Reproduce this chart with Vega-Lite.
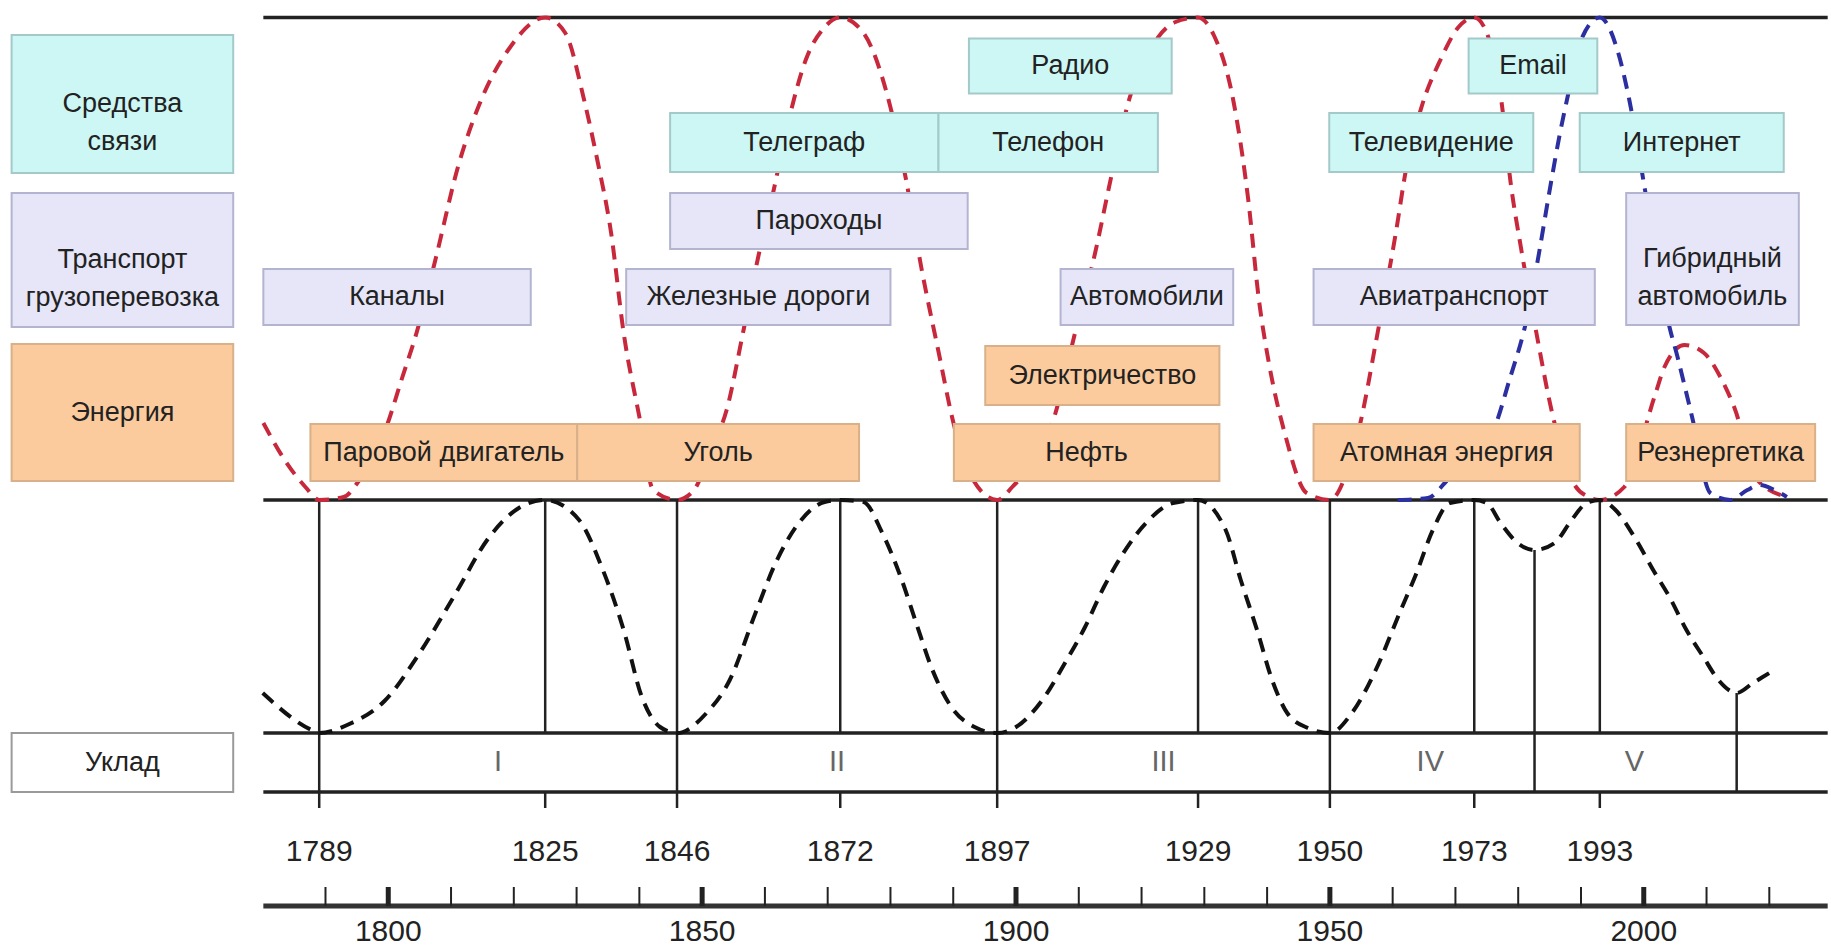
{
  "$schema": "https://vega.github.io/schema/vega-lite/v6.json",
  "width": 1831,
  "height": 952,
  "autosize": {"type": "fit", "contains": "padding"},
  "padding": 0,
  "background": "white",
  "config": {"view": {"stroke": null}},
  "datasets": {
    "hlines": [
      {"start": 1780.1, "end": 2029.3, "y": 17.5},
      {"start": 1780.1, "end": 2029.3, "y": 500},
      {"start": 1780.1, "end": 2029.3, "y": 733},
      {"start": 1780.1, "end": 2029.3, "y": 792}
    ],
    "vlines": [
      {"year": 1789, "y1": 500, "y2": 808},
      {"year": 1825, "y1": 500, "y2": 733},
      {"year": 1825, "y1": 792, "y2": 808},
      {"year": 1846, "y1": 500, "y2": 808},
      {"year": 1872, "y1": 500, "y2": 733},
      {"year": 1872, "y1": 792, "y2": 808},
      {"year": 1897, "y1": 500, "y2": 808},
      {"year": 1929, "y1": 500, "y2": 733},
      {"year": 1929, "y1": 792, "y2": 808},
      {"year": 1950, "y1": 500, "y2": 808},
      {"year": 1973, "y1": 500, "y2": 733},
      {"year": 1973, "y1": 792, "y2": 808},
      {"year": 1982.6, "y1": 550, "y2": 792},
      {"year": 1993, "y1": 500, "y2": 733},
      {"year": 1993, "y1": 792, "y2": 808},
      {"year": 2014.8, "y1": 693, "y2": 792}
    ],
    "ticks": [
      {"year": 1790}, {"year": 1800}, {"year": 1810}, {"year": 1820}, {"year": 1830}, {"year": 1840},
      {"year": 1850}, {"year": 1860}, {"year": 1870}, {"year": 1880}, {"year": 1890}, {"year": 1900},
      {"year": 1910}, {"year": 1920}, {"year": 1930}, {"year": 1940}, {"year": 1950}, {"year": 1960},
      {"year": 1970}, {"year": 1980}, {"year": 1990}, {"year": 2000}, {"year": 2010}, {"year": 2020}
    ],
    "curves": [
      {"s": "innov", "year": 1780.1, "y": 423}, {"s": "innov", "year": 1783.5, "y": 460}, {"s": "innov", "year": 1786.8, "y": 487},
      {"s": "innov", "year": 1789, "y": 500}, {"s": "innov", "year": 1792.9, "y": 497}, {"s": "innov", "year": 1795.4, "y": 480},
      {"s": "innov", "year": 1799.7, "y": 427}, {"s": "innov", "year": 1802.1, "y": 380}, {"s": "innov", "year": 1804.5, "y": 333},
      {"s": "innov", "year": 1807.5, "y": 260}, {"s": "innov", "year": 1811.1, "y": 167}, {"s": "innov", "year": 1814.8, "y": 100},
      {"s": "innov", "year": 1819.1, "y": 50}, {"s": "innov", "year": 1825, "y": 17.5}, {"s": "innov", "year": 1828.2, "y": 33},
      {"s": "innov", "year": 1831.2, "y": 100}, {"s": "innov", "year": 1833.3, "y": 160}, {"s": "innov", "year": 1835.5, "y": 233},
      {"s": "innov", "year": 1837.5, "y": 333}, {"s": "innov", "year": 1840.1, "y": 420}, {"s": "innov", "year": 1842.2, "y": 490},
      {"s": "innov", "year": 1846, "y": 500}, {"s": "innov", "year": 1848.7, "y": 490}, {"s": "innov", "year": 1851.4, "y": 450},
      {"s": "innov", "year": 1853.9, "y": 410}, {"s": "innov", "year": 1856.6, "y": 330}, {"s": "innov", "year": 1859.0, "y": 255},
      {"s": "innov", "year": 1861.4, "y": 190}, {"s": "innov", "year": 1863.8, "y": 120}, {"s": "innov", "year": 1866.5, "y": 60},
      {"s": "innov", "year": 1869.4, "y": 28}, {"s": "innov", "year": 1872, "y": 17.5}, {"s": "innov", "year": 1875.7, "y": 33},
      {"s": "innov", "year": 1879.7, "y": 100}, {"s": "innov", "year": 1882.4, "y": 177}, {"s": "innov", "year": 1884.9, "y": 267},
      {"s": "innov", "year": 1887.6, "y": 350}, {"s": "innov", "year": 1890.2, "y": 427}, {"s": "innov", "year": 1892.9, "y": 477},
      {"s": "innov", "year": 1897, "y": 500}, {"s": "innov", "year": 1899.4, "y": 487}, {"s": "innov", "year": 1906.1, "y": 417},
      {"s": "innov", "year": 1909.4, "y": 333}, {"s": "innov", "year": 1912.6, "y": 253}, {"s": "innov", "year": 1915.3, "y": 173},
      {"s": "innov", "year": 1918.0, "y": 100}, {"s": "innov", "year": 1921.8, "y": 45}, {"s": "innov", "year": 1925.4, "y": 22},
      {"s": "innov", "year": 1929, "y": 17.5}, {"s": "innov", "year": 1931.5, "y": 35}, {"s": "innov", "year": 1934.6, "y": 100},
      {"s": "innov", "year": 1937.0, "y": 200}, {"s": "innov", "year": 1938.7, "y": 300}, {"s": "innov", "year": 1940.4, "y": 367},
      {"s": "innov", "year": 1942.8, "y": 433}, {"s": "innov", "year": 1946.3, "y": 493}, {"s": "innov", "year": 1950, "y": 500},
      {"s": "innov", "year": 1952.8, "y": 470}, {"s": "innov", "year": 1954.6, "y": 430}, {"s": "innov", "year": 1957.6, "y": 333},
      {"s": "innov", "year": 1960.5, "y": 233}, {"s": "innov", "year": 1962.2, "y": 167}, {"s": "innov", "year": 1964.6, "y": 107},
      {"s": "innov", "year": 1967.6, "y": 60}, {"s": "innov", "year": 1970.5, "y": 27}, {"s": "innov", "year": 1973, "y": 17.5},
      {"s": "innov", "year": 1975.0, "y": 33}, {"s": "innov", "year": 1977.3, "y": 100}, {"s": "innov", "year": 1978.8, "y": 183},
      {"s": "innov", "year": 1980.5, "y": 250}, {"s": "innov", "year": 1982.9, "y": 333}, {"s": "innov", "year": 1985.3, "y": 410},
      {"s": "innov", "year": 1988.8, "y": 483}, {"s": "innov", "year": 1991.2, "y": 497}, {"s": "innov", "year": 1993, "y": 500},
      {"s": "innov", "year": 1996.9, "y": 487}, {"s": "innov", "year": 2001.7, "y": 397}, {"s": "innov", "year": 2003.3, "y": 367},
      {"s": "innov", "year": 2006.5, "y": 345}, {"s": "innov", "year": 2009.6, "y": 353}, {"s": "innov", "year": 2012.2, "y": 377},
      {"s": "innov", "year": 2014.4, "y": 407}, {"s": "innov", "year": 2018.1, "y": 480}, {"s": "innov", "year": 2022.8, "y": 497},

      {"s": "ict", "year": 1960.8, "y": 500}, {"s": "ict", "year": 1965.6, "y": 498}, {"s": "ict", "year": 1968.3, "y": 483},
      {"s": "ict", "year": 1971.1, "y": 462}, {"s": "ict", "year": 1975.9, "y": 432}, {"s": "ict", "year": 1978.6, "y": 380},
      {"s": "ict", "year": 1981.5, "y": 315}, {"s": "ict", "year": 1983.4, "y": 250}, {"s": "ict", "year": 1985.1, "y": 187},
      {"s": "ict", "year": 1986.6, "y": 135}, {"s": "ict", "year": 1988.0, "y": 93}, {"s": "ict", "year": 1989.7, "y": 45},
      {"s": "ict", "year": 1993, "y": 17.5}, {"s": "ict", "year": 1995.8, "y": 50}, {"s": "ict", "year": 1997.7, "y": 100},
      {"s": "ict", "year": 2000.2, "y": 190}, {"s": "ict", "year": 2002.1, "y": 260}, {"s": "ict", "year": 2004.1, "y": 327},
      {"s": "ict", "year": 2005.3, "y": 355}, {"s": "ict", "year": 2006.4, "y": 383}, {"s": "ict", "year": 2007.7, "y": 417},
      {"s": "ict", "year": 2010.6, "y": 493}, {"s": "ict", "year": 2013.8, "y": 500}, {"s": "ict", "year": 2016.5, "y": 490},
      {"s": "ict", "year": 2018.5, "y": 485}, {"s": "ict", "year": 2020.8, "y": 490}, {"s": "ict", "year": 2022.8, "y": 497},

      {"s": "cycle", "year": 1780.0, "y": 693}, {"s": "cycle", "year": 1787.8, "y": 730}, {"s": "cycle", "year": 1789, "y": 733},
      {"s": "cycle", "year": 1793.8, "y": 724}, {"s": "cycle", "year": 1799.4, "y": 701}, {"s": "cycle", "year": 1804.9, "y": 654},
      {"s": "cycle", "year": 1810.5, "y": 596}, {"s": "cycle", "year": 1816.1, "y": 537}, {"s": "cycle", "year": 1820.8, "y": 508},
      {"s": "cycle", "year": 1825, "y": 500}, {"s": "cycle", "year": 1830.4, "y": 520}, {"s": "cycle", "year": 1834.0, "y": 567},
      {"s": "cycle", "year": 1837.5, "y": 630}, {"s": "cycle", "year": 1840.4, "y": 697}, {"s": "cycle", "year": 1843.3, "y": 727},
      {"s": "cycle", "year": 1846, "y": 733}, {"s": "cycle", "year": 1850.7, "y": 713}, {"s": "cycle", "year": 1854.4, "y": 680},
      {"s": "cycle", "year": 1858.5, "y": 613}, {"s": "cycle", "year": 1861.7, "y": 563}, {"s": "cycle", "year": 1865.4, "y": 523},
      {"s": "cycle", "year": 1869.5, "y": 502}, {"s": "cycle", "year": 1872, "y": 500}, {"s": "cycle", "year": 1875.7, "y": 502},
      {"s": "cycle", "year": 1878.7, "y": 533}, {"s": "cycle", "year": 1881.8, "y": 580}, {"s": "cycle", "year": 1884.1, "y": 623},
      {"s": "cycle", "year": 1886.5, "y": 667}, {"s": "cycle", "year": 1889.7, "y": 707}, {"s": "cycle", "year": 1893.4, "y": 727},
      {"s": "cycle", "year": 1897, "y": 733}, {"s": "cycle", "year": 1900.0, "y": 727}, {"s": "cycle", "year": 1904.2, "y": 700},
      {"s": "cycle", "year": 1907.8, "y": 663}, {"s": "cycle", "year": 1911.0, "y": 627}, {"s": "cycle", "year": 1914.0, "y": 587},
      {"s": "cycle", "year": 1917.1, "y": 553}, {"s": "cycle", "year": 1920.7, "y": 523}, {"s": "cycle", "year": 1925.0, "y": 503},
      {"s": "cycle", "year": 1929, "y": 500}, {"s": "cycle", "year": 1933.4, "y": 530}, {"s": "cycle", "year": 1935.8, "y": 580},
      {"s": "cycle", "year": 1938.4, "y": 630}, {"s": "cycle", "year": 1940.8, "y": 680}, {"s": "cycle", "year": 1943.2, "y": 713},
      {"s": "cycle", "year": 1946.5, "y": 728}, {"s": "cycle", "year": 1950, "y": 733}, {"s": "cycle", "year": 1953.5, "y": 713},
      {"s": "cycle", "year": 1957.3, "y": 670}, {"s": "cycle", "year": 1961.1, "y": 613}, {"s": "cycle", "year": 1963.8, "y": 573},
      {"s": "cycle", "year": 1966.4, "y": 530}, {"s": "cycle", "year": 1969.1, "y": 503}, {"s": "cycle", "year": 1973, "y": 500},
      {"s": "cycle", "year": 1975.0, "y": 503}, {"s": "cycle", "year": 1977.2, "y": 523}, {"s": "cycle", "year": 1979.9, "y": 543},
      {"s": "cycle", "year": 1982.6, "y": 550}, {"s": "cycle", "year": 1985.8, "y": 543}, {"s": "cycle", "year": 1988.5, "y": 520},
      {"s": "cycle", "year": 1990.9, "y": 503}, {"s": "cycle", "year": 1993, "y": 500}, {"s": "cycle", "year": 1995.5, "y": 510},
      {"s": "cycle", "year": 1998.8, "y": 540}, {"s": "cycle", "year": 2001.5, "y": 570}, {"s": "cycle", "year": 2004.1, "y": 597},
      {"s": "cycle", "year": 2006.8, "y": 630}, {"s": "cycle", "year": 2009.5, "y": 657}, {"s": "cycle", "year": 2011.9, "y": 680},
      {"s": "cycle", "year": 2014.8, "y": 693}, {"s": "cycle", "year": 2017.4, "y": 683}, {"s": "cycle", "year": 2020.0, "y": 673}
    ],
    "boxes": [
      {"label": "Средства\nсвязи", "cat": "comm", "start": 1740.0, "end": 1775.3, "top": 35, "bottom": 173},
      {"label": "Транспорт\nгрузоперевозка", "cat": "transport", "start": 1740.0, "end": 1775.3, "top": 193, "bottom": 327},
      {"label": "Энергия", "cat": "energy", "start": 1740.0, "end": 1775.3, "top": 344, "bottom": 481},
      {"label": "Уклад", "cat": "uklad", "start": 1740.0, "end": 1775.3, "top": 733, "bottom": 792},
      {"label": "Радио", "cat": "comm", "start": 1892.5, "end": 1924.8, "top": 38.5, "bottom": 93.4},
      {"label": "Телеграф", "cat": "comm", "start": 1844.9, "end": 1887.65, "top": 113, "bottom": 172},
      {"label": "Телефон", "cat": "comm", "start": 1887.65, "end": 1922.6, "top": 113, "bottom": 172},
      {"label": "Телевидение", "cat": "comm", "start": 1949.9, "end": 1982.4, "top": 113, "bottom": 172},
      {"label": "Email", "cat": "comm", "start": 1972.1, "end": 1992.6, "top": 38.5, "bottom": 93.4},
      {"label": "Интернет", "cat": "comm", "start": 1989.8, "end": 2022.3, "top": 113, "bottom": 172},
      {"label": "Пароходы", "cat": "transport", "start": 1844.9, "end": 1892.3, "top": 193, "bottom": 249},
      {"label": "Каналы", "cat": "transport", "start": 1780.1, "end": 1822.7, "top": 269, "bottom": 325},
      {"label": "Железные дороги", "cat": "transport", "start": 1837.9, "end": 1880.0, "top": 269, "bottom": 325},
      {"label": "Автомобили", "cat": "transport", "start": 1907.1, "end": 1934.6, "top": 269, "bottom": 325},
      {"label": "Авиатранспорт", "cat": "transport", "start": 1947.4, "end": 1992.2, "top": 269, "bottom": 325},
      {"label": "Гибридный\nавтомобиль", "cat": "transport", "start": 1997.2, "end": 2024.7, "top": 193, "bottom": 325},
      {"label": "Электричество", "cat": "energy", "start": 1895.1, "end": 1932.4, "top": 346, "bottom": 405},
      {"label": "Паровой двигатель", "cat": "energy", "start": 1787.6, "end": 1830.1, "top": 424, "bottom": 481},
      {"label": "Уголь", "cat": "energy", "start": 1830.1, "end": 1875.0, "top": 424, "bottom": 481},
      {"label": "Нефть", "cat": "energy", "start": 1890.1, "end": 1932.4, "top": 424, "bottom": 481},
      {"label": "Атомная энергия", "cat": "energy", "start": 1947.4, "end": 1989.8, "top": 424, "bottom": 481},
      {"label": "Резнергетика", "cat": "energy", "start": 1997.2, "end": 2027.3, "top": 424, "bottom": 481}
    ],
    "years": [
      {"year": 1789}, {"year": 1825}, {"year": 1846}, {"year": 1872}, {"year": 1897},
      {"year": 1929}, {"year": 1950}, {"year": 1973}, {"year": 1993}
    ],
    "waves": [
      {"name": "I", "year": 1817.5}, {"name": "II", "year": 1871.5}, {"name": "III", "year": 1923.5},
      {"name": "IV", "year": 1966.0}, {"name": "V", "year": 1998.5}
    ],
    "axisLabels": [{"year": 1800}, {"year": 1850}, {"year": 1900}, {"year": 1950}, {"year": 2000}]
  },
  "layer": [
    {
      "data": {"name": "hlines"},
      "mark": {"type": "rule", "color": "#222222", "strokeWidth": 3.5},
      "encoding": {
        "x": {"field": "start", "type": "quantitative", "scale": {"domain": [1738.15, 2029.35], "nice": false, "zero": false}, "axis": null},
        "x2": {"field": "end"},
        "y": {"field": "y", "type": "quantitative", "scale": {"domain": [0, 952], "reverse": true, "nice": false, "zero": false}, "axis": null}
      }
    },
    {
      "data": {"values": [{"start": 1780.1, "end": 2029.3}]},
      "mark": {"type": "rule", "color": "#333333", "strokeWidth": 5},
      "encoding": {
        "x": {"field": "start", "type": "quantitative"},
        "x2": {"field": "end"},
        "y": {"datum": 906, "type": "quantitative"}
      }
    },
    {
      "data": {"name": "ticks"},
      "mark": {"type": "rule", "color": "#222222"},
      "encoding": {
        "x": {"field": "year", "type": "quantitative"},
        "y": {"datum": 887, "type": "quantitative"},
        "y2": {"datum": 906},
        "strokeWidth": {"condition": {"test": "datum.year % 50 === 0", "value": 5}, "value": 2}
      }
    },
    {
      "data": {"name": "vlines"},
      "mark": {"type": "rule", "color": "#222222", "strokeWidth": 2.5},
      "encoding": {
        "x": {"field": "year", "type": "quantitative"},
        "y": {"field": "y1", "type": "quantitative"},
        "y2": {"field": "y2"}
      }
    },
    {
      "data": {"name": "curves"},
      "mark": {"type": "line", "strokeWidth": 4, "strokeDash": [14, 9], "interpolate": "monotone"},
      "encoding": {
        "x": {"field": "year", "type": "quantitative"},
        "y": {"field": "y", "type": "quantitative"},
        "stroke": {"field": "s", "type": "nominal", "legend": null,
          "scale": {"domain": ["innov", "ict", "cycle"], "range": ["#c8283c", "#2b2fa0", "#111111"]}},
        "detail": {"field": "s"}
      }
    },
    {
      "data": {"name": "boxes"},
      "mark": {"type": "rect", "strokeWidth": 2},
      "encoding": {
        "x": {"field": "start", "type": "quantitative"},
        "x2": {"field": "end"},
        "y": {"field": "top", "type": "quantitative"},
        "y2": {"field": "bottom"},
        "fill": {"field": "cat", "type": "nominal", "legend": null,
          "scale": {"domain": ["comm", "transport", "energy", "uklad"], "range": ["#ccf7f4", "#e6e6f8", "#fbcb9e", "#ffffff"]}},
        "stroke": {"field": "cat", "type": "nominal", "legend": null,
          "scale": {"domain": ["comm", "transport", "energy", "uklad"], "range": ["#a3c9c8", "#b3b4d0", "#d8b089", "#9a9a9a"]}}
      }
    },
    {
      "data": {"name": "boxes"},
      "transform": [
        {"calculate": "(datum.start + datum.end) / 2", "as": "mid"},
        {"calculate": "(datum.top + datum.bottom) / 2", "as": "ymid"}
      ],
      "mark": {"type": "text", "font": "Liberation Sans", "fontSize": 27, "color": "#222222", "lineBreak": "\n", "lineHeight": 38, "baseline": "middle", "align": "center"},
      "encoding": {
        "x": {"field": "mid", "type": "quantitative"},
        "y": {"field": "ymid", "type": "quantitative"},
        "text": {"field": "label", "type": "nominal"}
      }
    },
    {
      "data": {"name": "years"},
      "mark": {"type": "text", "font": "Liberation Sans", "fontSize": 30, "color": "#222222", "baseline": "middle", "align": "center"},
      "encoding": {
        "x": {"field": "year", "type": "quantitative"},
        "y": {"datum": 852, "type": "quantitative"},
        "text": {"field": "year", "type": "nominal"}
      }
    },
    {
      "data": {"name": "waves"},
      "mark": {"type": "text", "font": "Liberation Sans", "fontSize": 29, "color": "#666666", "baseline": "middle", "align": "center"},
      "encoding": {
        "x": {"field": "year", "type": "quantitative"},
        "y": {"datum": 762, "type": "quantitative"},
        "text": {"field": "name", "type": "nominal"}
      }
    },
    {
      "data": {"name": "axisLabels"},
      "mark": {"type": "text", "font": "Liberation Sans", "fontSize": 30, "color": "#222222", "baseline": "middle", "align": "center"},
      "encoding": {
        "x": {"field": "year", "type": "quantitative"},
        "y": {"datum": 932, "type": "quantitative"},
        "text": {"field": "year", "type": "nominal"}
      }
    }
  ],
  "resolve": {"scale": {"fill": "independent", "stroke": "independent"}}
}
